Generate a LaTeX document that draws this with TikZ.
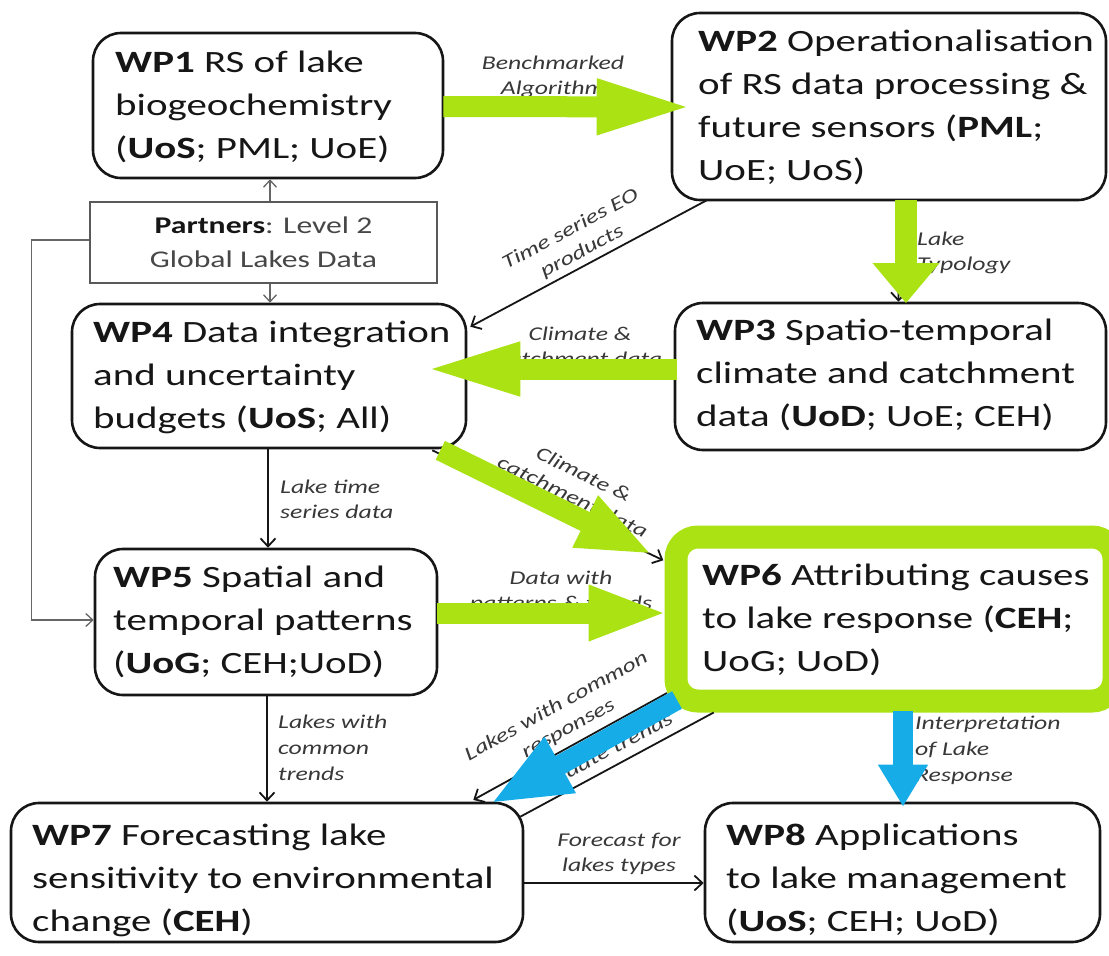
\documentclass[tikz,border=0pt]{standalone}
\usepackage{fontspec}
\setmainfont{Carlito}[FakeStretch=1.32]
\usetikzlibrary{arrows.meta,calc}
\definecolor{wpgreen}{RGB}{170,226,20}
\definecolor{wpblue}{RGB}{22,172,232}
\definecolor{ink}{RGB}{22,22,22}
\newcommand\labtop{\rule{0pt}{18pt}}
\newcommand\labbot{\rule[-6pt]{0pt}{6pt}}
\newcommand\boxstrut{\rule{0pt}{28pt}}
\begin{document}
\begin{tikzpicture}[x=1pt,y=-1pt,
  box/.style={draw=ink, fill=white, line width=2.6pt, rounded corners=28pt, inner sep=0pt},
  txt/.style={anchor=north west, inner sep=0pt, align=left, text=ink, font=\fontsize{31}{43}\selectfont},
  lbl/.style={inner sep=0pt, align=center, text=black!78, font=\itshape\fontsize{19.5}{25}\selectfont},
  lblthree/.style={lbl, font=\itshape\fontsize{19.5}{26}\selectfont},
  conn/.style={draw=ink, line width=1.8pt, -{Straight Barb[length=8pt,width=15pt]}},
  gconn/.style={draw=black!60, line width=1.3pt, -{Straight Barb[length=7pt,width=13pt]}},
  fatg/.style={draw=wpgreen, line width=21pt},
  fatb/.style={draw=wpblue, line width=20pt},
]
\useasboundingbox (0,0) rectangle (1109,956);
\fill[white] (0,0) rectangle (1109,956);
\clip (0,0) rectangle (1109,956);

% ---------- labels (drawn first, partly covered by arrows) ----------
\node[lbl, anchor=north] (lbench) at (553,51) {\labtop Benchmarked\\Algorithm};
\node[lbl, anchor=north west, align=left] (ltypo) at (917,227) {\labtop Lake\\Typology};
\node[lbl, anchor=north] (lclim1) at (580,322) {\labtop Climate \&\\catchment data};
\node[lbl, rotate=28] (lts) at (576,240) {\labtop Time series EO\\products\labbot};
\node[lbl, rotate=-26] (lclim2) at (578,486) {\labtop Climate \&\\catchment data\labbot};
\node[lbl, anchor=north] (ldata) at (561,566) {\labtop Data with\\patterns \& trends};
\node[lbl, anchor=north west, align=left] (llt) at (280,475) {\labtop Lake time\\series data};
\node[lblthree, anchor=north west, align=left] (llw) at (278,710) {\labtop Lakes with\\common\\trends};
\node[lbl, rotate=29] (llc) at (562,717) {\labtop Lakes with common\\responses\labbot};
\node[lbl, rotate=28] (lval) at (602,754) {\labtop\labbot Validate trends};
\node[lblthree, anchor=north west, align=left] (lint) at (915,711) {\labtop Interpretation\\of Lake\\Response};
\node[lbl, anchor=north] (lfc) at (619,828) {\labtop Forecast for\\lakes types};

% ---------- boxes ----------
\node[box, minimum width=350pt, minimum height=145pt] (wp1) at (268,105.5) {};
\node[box, minimum width=434pt, minimum height=187pt] (wp2) at (889,106.5) {};
\node[box, minimum width=431pt, minimum height=147pt] (wp3) at (890.5,376.5) {};
\node[box, minimum width=394pt, minimum height=144pt] (wp4) at (269,376) {};
\node[box, minimum width=342pt, minimum height=146pt] (wp5) at (266,622) {};
\node[box, minimum width=512pt, minimum height=139pt] (wp7) at (267,872.5) {};
\node[box, minimum width=395pt, minimum height=139pt] (wp8) at (902.5,872.5) {};
\node[draw=black!65, fill=white, line width=1.4pt, inner sep=0pt, minimum width=347pt, minimum height=81pt,
      align=center, text=black!72, font=\fontsize{24}{34}\selectfont] (partners) at (263.5,242.5)
      {\textcolor{ink}{\textbf{Partners}}: Level 2\\Global Lakes Data};

% ---------- thin connectors ----------
\draw[conn] ($(wp2.south west)+(36,-1)$) -- ($(wp4.north east)+(3,24)$);
\draw[conn] ($(wp4.south)+(-1,0)$) -- ($(wp5.north)+(2,0)$);
\draw[conn] ($(wp5.south)+(1,0)$) -- (wp7.north);
\draw[conn] ($(wp7.east)+(0,10.5)$) -- ($(wp8.west)+(0,10.5)$);
\draw[conn] ($(wp4.south east)+(-35,1)$) -- ($(wp4.south east)+(196,111)$);
\draw[conn] ($(wp2.south)+(10,0)$) -- ($(wp3.north)+(8,0)$);
\draw[gconn] ($(partners.north)+(6.5,0)$) -- ($(wp1.south)+(2,0)$);
\draw[gconn] ($(partners.south)+(6.5,0)$) -- ($(wp4.north)+(1,0)$);
\draw[gconn] ($(partners.west)+(0,-2.5)$) -| ($(wp5.west)+(-62,-2)$) -- ($(wp5.west)+(0,-2)$);

% ---------- WP6 (green frame) ----------
\node[draw=wpgreen, fill=white, line width=23pt, rounded corners=22pt, inner sep=0pt,
      minimum width=438pt, minimum height=164pt] (wp6) at (895,619) {};
\draw[conn] ($(wp6.south west)+(2.5,-19.5)$) -- ($(wp7.north east)+(-51,-1.8)$);
\draw[draw=ink, line width=1.8pt] ($(wp7.north east)+(-4,15)$) -- ($(wp6.south west)+(49.2,0)$);

% ---------- box texts ----------
\node[txt] (wp1t) at (115,44) {\boxstrut\textbf{WP1} RS of lake\\biogeochemistry\\(\textbf{UoS}; PML; UoE)};
\node[txt] (wp2t) at (698,23) {\boxstrut\textbf{WP2} Operationalisation\\of RS data processing \&\\future sensors (\textbf{PML};\\UoE; UoS)};
\node[txt] (wp3t) at (696,312) {\boxstrut\textbf{WP3} Spatio-temporal\\climate and catchment\\data (\textbf{UoD}; UoE; CEH)};
\node[txt] (wp4t) at (93,314) {\boxstrut\textbf{WP4} Data integration\\and uncertainty\\budgets (\textbf{UoS}; All)};
\node[txt] (wp5t) at (113,559) {\boxstrut\textbf{WP5} Spatial and\\temporal patterns\\(\textbf{UoG}; CEH;UoD)};
\node[txt] (wp6t) at (702,557) {\boxstrut\textbf{WP6} Attributing causes\\to lake response (\textbf{CEH};\\UoG; UoD)};
\node[txt] (wp7t) at (32,817) {\boxstrut\textbf{WP7} Forecasting lake\\sensitivity to environmental\\change (\textbf{CEH})};
\node[txt] (wp8t) at (726,817) {\boxstrut\textbf{WP8} Applications\\to lake management\\(\textbf{UoS}; CEH; UoD)};

% ---------- fat arrows ----------
\draw[fatg, -{Triangle[length=97pt,width=50pt]}] ($(wp1.east)+(-1,1)$) -- ($(wp2.west)+(23,0.5)$);
\draw[fatg, line width=22pt, -{Triangle[length=40pt,width=64pt]}] ($(wp2.south)+(17,-1)$) -- ($(wp3.north)+(15.5,1.5)$);
\draw[fatg, -{Triangle[length=97pt,width=48pt]}] ($(wp3.west)+(3,-7.5)$) -- ($(wp4.east)+(-44,-7)$);
\draw[fatg, -{Triangle[length=75pt,width=52pt]}] ($(wp4.south east)+(-27,1)$) -- ($(wp6.north west)+(-12,29)$);
\draw[fatg, -{Triangle[length=80pt,width=50pt]}] ($(wp5.east)+(-1,-9)$) -- ($(wp6.west)+(4,-6)$);
\draw[fatb, -{Triangle[length=80pt,width=58pt]}] ($(wp6.south west)+(12.5,-12.5)$) -- ($(wp7.north east)+(-34,2)$);
\draw[fatb, -{Triangle[length=42pt,width=47pt]}] ($(wp6.south)+(8,-2)$) -- ($(wp8.north)+(0.5,5)$);
\end{tikzpicture}
\end{document}
